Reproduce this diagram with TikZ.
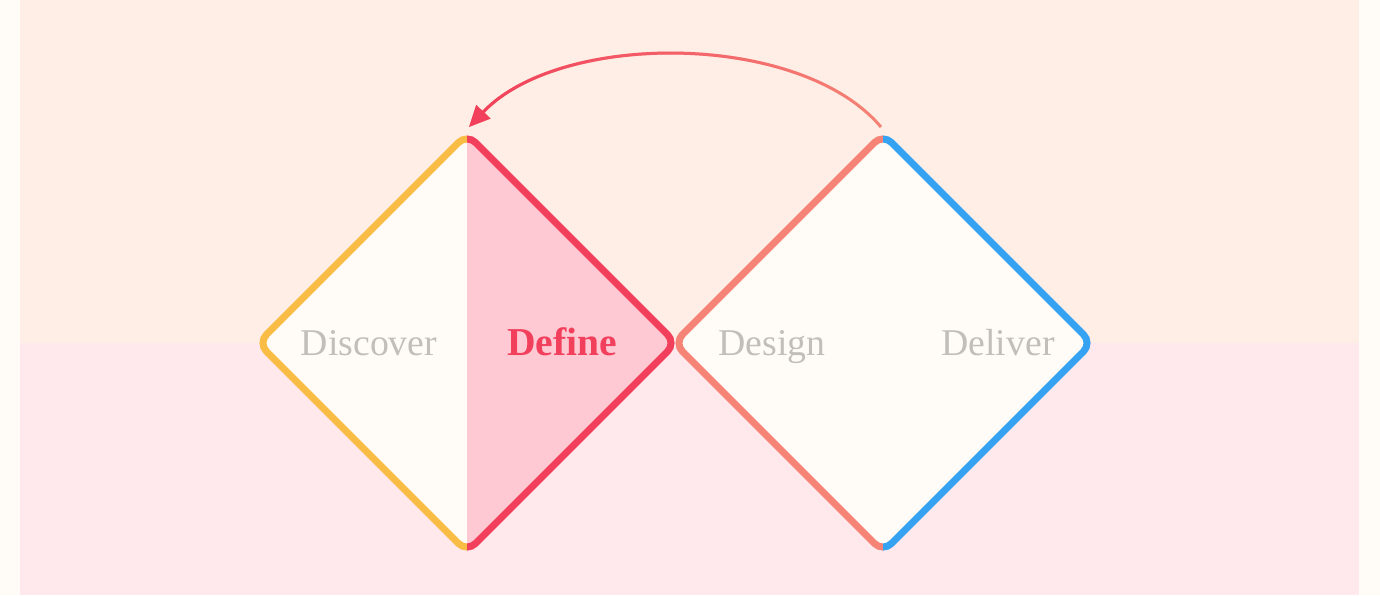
\documentclass[tikz,border=0pt]{standalone}
\usepackage{fontspec}
\setmainfont{Liberation Serif}
\usepackage{tikz}
\usetikzlibrary{arrows.meta,fadings}
\definecolor{creambg}{HTML}{FFFCF7}
\definecolor{peachbg}{HTML}{FFEEE6}
\definecolor{pinkbg}{HTML}{FFE9EC}
\definecolor{pinkfill}{HTML}{FFC9D3}
\definecolor{yellowline}{HTML}{F9BC45}
\definecolor{redline}{HTML}{F23F5C}
\definecolor{salmonline}{HTML}{F58476}
\definecolor{blueline}{HTML}{36A2F2}
\definecolor{labelgray}{HTML}{C2BEBA}
\newcommand{\rhombus}[1]{([shift={(0,-209)}]#1) -- ([shift={(209,0)}]#1) -- ([shift={(0,209)}]#1) -- ([shift={(-209,0)}]#1) -- cycle}

\begin{document}
\begin{tikzpicture}[>=Latex,x=0.2mm,y=-0.2mm,
    side/.style={line width=1.4mm,rounded corners=2.4mm},
    phase/.style={anchor=base,text=labelgray,font=\fontsize{21.5}{25}\selectfont},
    loop arrow/.style={line width=0.6mm,-{Triangle[length=4.2mm,width=3.8mm]}}]
  \useasboundingbox (0,0) rectangle (1380,595);
  \fill[creambg] (0,0) rectangle (1380,595);
  \fill[peachbg] (20,0) rectangle (1359,343);
  \fill[pinkbg] (20,343) rectangle (1359,595);

  \coordinate (dL) at (467,343);
  \coordinate (dR) at (883,343);

  % left diamond: discover | define
  \begin{scope}
    \clip ([shift={(-230,-230)}]dL) rectangle ([shift={(0,230)}]dL);
    \fill[creambg,rounded corners=2.4mm] \rhombus{dL};
    \draw[side,yellowline] \rhombus{dL};
  \end{scope}
  \begin{scope}
    \clip ([shift={(0,-230)}]dL) rectangle ([shift={(230,230)}]dL);
    \fill[pinkfill,rounded corners=2.4mm] \rhombus{dL};
    \draw[side,redline] \rhombus{dL};
  \end{scope}

  % right diamond: design | deliver
  \begin{scope}
    \clip ([shift={(-230,-230)}]dR) rectangle ([shift={(0,230)}]dR);
    \fill[creambg,rounded corners=2.4mm] \rhombus{dR};
    \draw[side,salmonline] \rhombus{dR};
  \end{scope}
  \begin{scope}
    \clip ([shift={(0,-230)}]dR) rectangle ([shift={(230,230)}]dR);
    \fill[creambg,rounded corners=2.4mm] \rhombus{dR};
    \draw[side,blueline] \rhombus{dR};
  \end{scope}

  \node[phase] (discover) at (369,355) {Discover};
  \node[phase,text=redline,font=\fontsize{22.5}{25}\selectfont\bfseries] (define) at (562,355) {Define};
  \node[phase] (design) at (772,355) {Design};
  \node[phase] (deliver) at (998,355) {Deliver};

  \coordinate (loopS) at (881,127);
  \coordinate (loopE) at (469,127);
  \draw[loop arrow,salmonline] (loopS) .. controls (800,31) and (560,31) .. (loopE);
  \draw[loop arrow,redline,path fading=east] (loopS) .. controls (800,31) and (560,31) .. (loopE);
\end{tikzpicture}
\end{document}
